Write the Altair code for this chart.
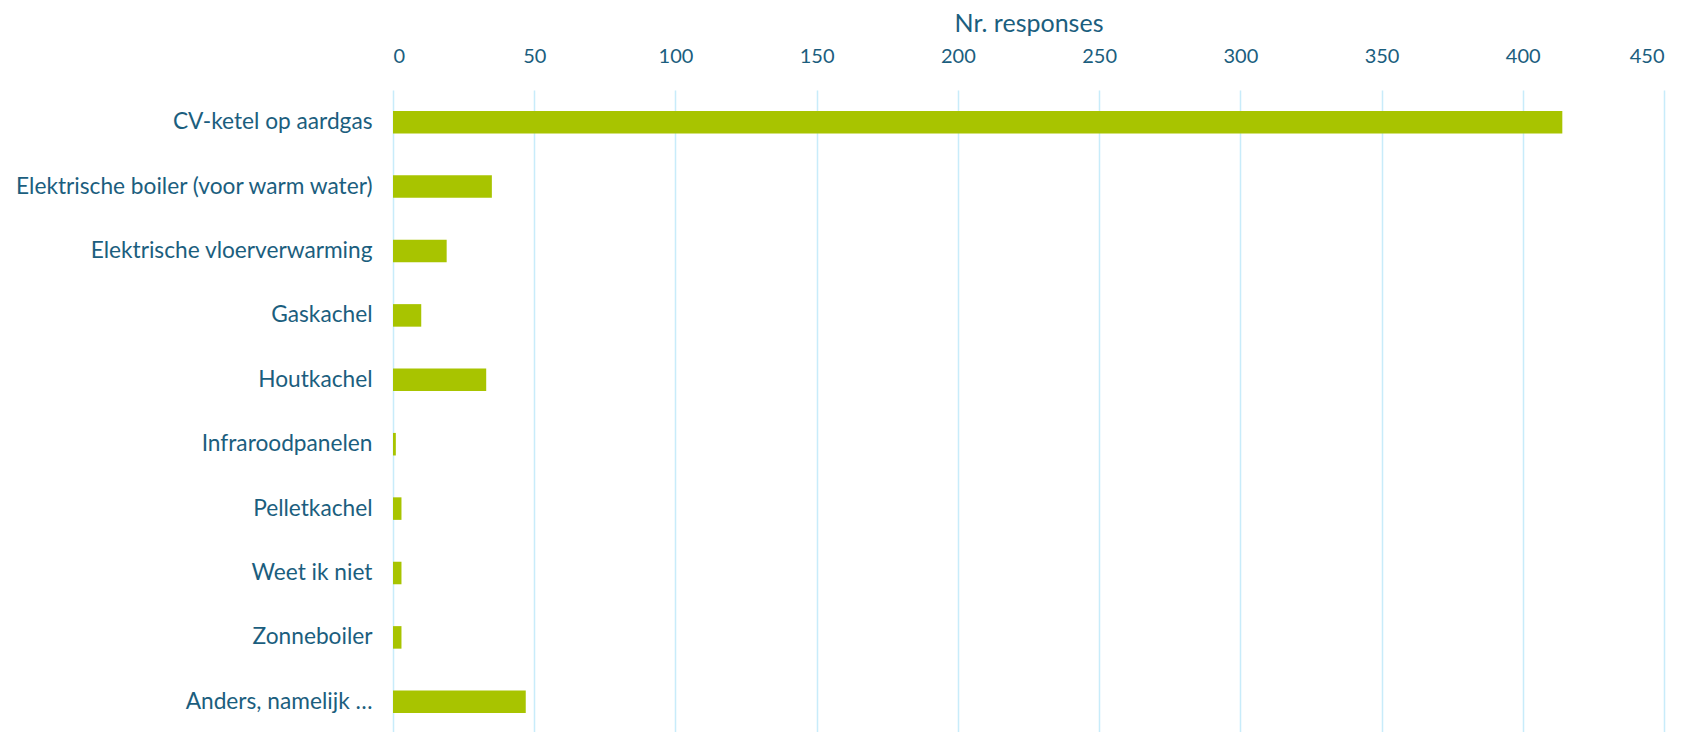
import altair as alt
import pandas as pd

categories = [
    "CV-ketel op aardgas",
    "Elektrische boiler (voor warm water)",
    "Elektrische vloerverwarming",
    "Gaskachel",
    "Houtkachel",
    "Infraroodpanelen",
    "Pelletkachel",
    "Weet ik niet",
    "Zonneboiler",
    "Anders, namelijk …",
]
responses = [414, 35, 19, 10, 33, 1, 3, 3, 3, 47]
x_ticks = [0, 50, 100, 150, 200, 250, 300, 350, 400, 450]

df = pd.DataFrame({"category": categories, "responses": responses})

TEXT = "#1B5E7E"
FONT = "Lato"

chart = (
    alt.Chart(df)
    .mark_bar(color="#A8C400")
    .encode(
        x=alt.X(
            "responses:Q",
            scale=alt.Scale(domain=[0, 450], nice=False),
            axis=alt.Axis(
                orient="top",
                title="Nr. responses",
                values=x_ticks,
                domain=False,
                ticks=False,
                grid=True,
                gridColor="#C8ECFA",
                gridWidth=1.5,
                labelPadding=24,
                titlePadding=10,
                labelFontSize=20,
                titleFontSize=25,
                labelColor=TEXT,
                titleColor=TEXT,
                labelFont=FONT,
                titleFont=FONT,
                titleFontWeight="normal",
            ),
        ),
        y=alt.Y(
            "category:N",
            sort=categories,
            scale=alt.Scale(paddingInner=0.65, paddingOuter=0.325),
            axis=alt.Axis(
                title=None,
                domain=False,
                ticks=False,
                grid=False,
                labelPadding=21,
                labelFontSize=22.7,
                labelColor=TEXT,
                labelFont=FONT,
                labelLimit=700,
            ),
        ),
    )
    .properties(
        width=1271,
        height=644,
        padding={"top": 3, "left": 5, "right": 5, "bottom": 5},
    )
    .configure_view(stroke=None)
)

chart.save("out.html", embed_options={"renderer": "svg", "actions": False})
